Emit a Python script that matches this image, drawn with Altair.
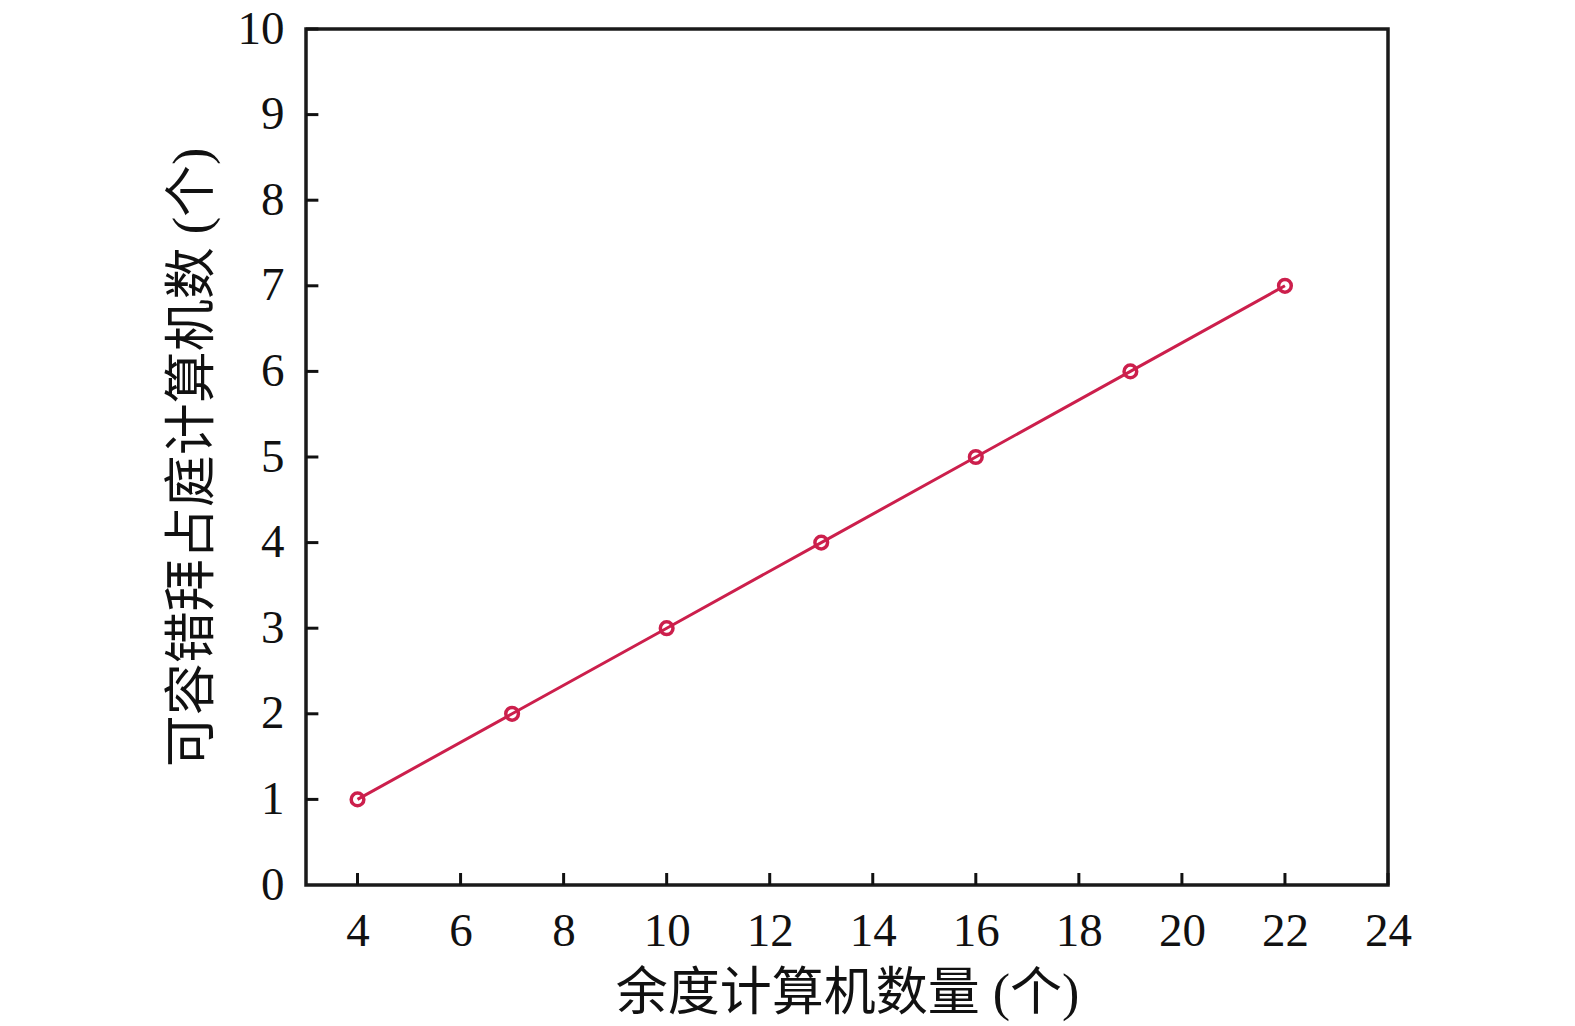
import altair as alt
import pandas as pd

x_vals = [4, 7, 10, 13, 16, 19, 22]
y_vals = [1, 2, 3, 4, 5, 6, 7]
x_ticks = [4, 6, 8, 10, 12, 14, 16, 18, 20, 22, 24]
y_ticks = [1, 2, 3, 4, 5, 6, 7, 8, 9, 10]

x_title = "余度计算机数量 (个)"
y_title = "可容错拜占庭计算机数 (个)"

df = pd.DataFrame({"x": x_vals, "y": y_vals})
xt = pd.DataFrame({"t": x_ticks})
yt = pd.DataFrame({"t": y_ticks})

COLOR = "#cc1f4c"
NUM_FONT = "Liberation Serif"
TITLE_FONT = "Liberation Serif, Noto Sans CJK SC"

xscale = alt.Scale(domain=[3, 24], nice=False, zero=False)
yscale = alt.Scale(domain=[0, 10], nice=False, zero=False)

xaxis = alt.Axis(values=x_ticks, format="d", ticks=False, domain=False, grid=False,
                 labelFont=NUM_FONT, labelFontSize=47, labelColor="#111",
                 labelPadding=23, labelFlush=False, labelOverlap=False,
                 title=x_title, titleFont=TITLE_FONT,
                 titleFontSize=52, titleFontWeight="normal", titleColor="#111",
                 titlePadding=14)
yaxis = alt.Axis(values=list(range(0, 11)), format="d", ticks=False, domain=False, grid=False,
                 labelFont=NUM_FONT, labelFontSize=47, labelColor="#111",
                 labelPadding=22, labelFlush=False, labelOverlap=False,
                 title=y_title, titleFont=TITLE_FONT,
                 titleFontSize=52, titleFontWeight="normal", titleColor="#111",
                 titlePadding=18)

line = alt.Chart(df).mark_line(color=COLOR, strokeWidth=3).encode(
    x=alt.X("x:Q", scale=xscale, axis=xaxis),
    y=alt.Y("y:Q", scale=yscale, axis=yaxis),
)
points = alt.Chart(df).mark_point(shape="circle", size=160, filled=False,
                                  color=COLOR, strokeWidth=3.5, opacity=1).encode(
    x=alt.X("x:Q", scale=xscale),
    y=alt.Y("y:Q", scale=yscale),
)

xtick_rules = alt.Chart(xt).mark_rule(color="#111", strokeWidth=3).encode(
    x=alt.X("t:Q", scale=xscale, axis=xaxis),
    y=alt.datum(0, scale=yscale, axis=yaxis),
    y2=alt.datum(0.14),
)
ytick_rules = alt.Chart(yt).mark_rule(color="#111", strokeWidth=3).encode(
    y=alt.Y("t:Q", scale=yscale),
    x=alt.datum(3, scale=xscale),
    x2=alt.datum(3.24),
)

chart = alt.layer(xtick_rules, ytick_rules, line, points).properties(
    width=1082,
    height=856,
    autosize=alt.AutoSizeParams(type="none"),
    padding={"left": 298, "top": 21, "right": 150, "bottom": 140},
    background="white",
).configure_view(
    stroke="#1a1a1a", strokeWidth=3.5
)

chart.save("out.html", embed_options={"renderer": "svg", "actions": False})
